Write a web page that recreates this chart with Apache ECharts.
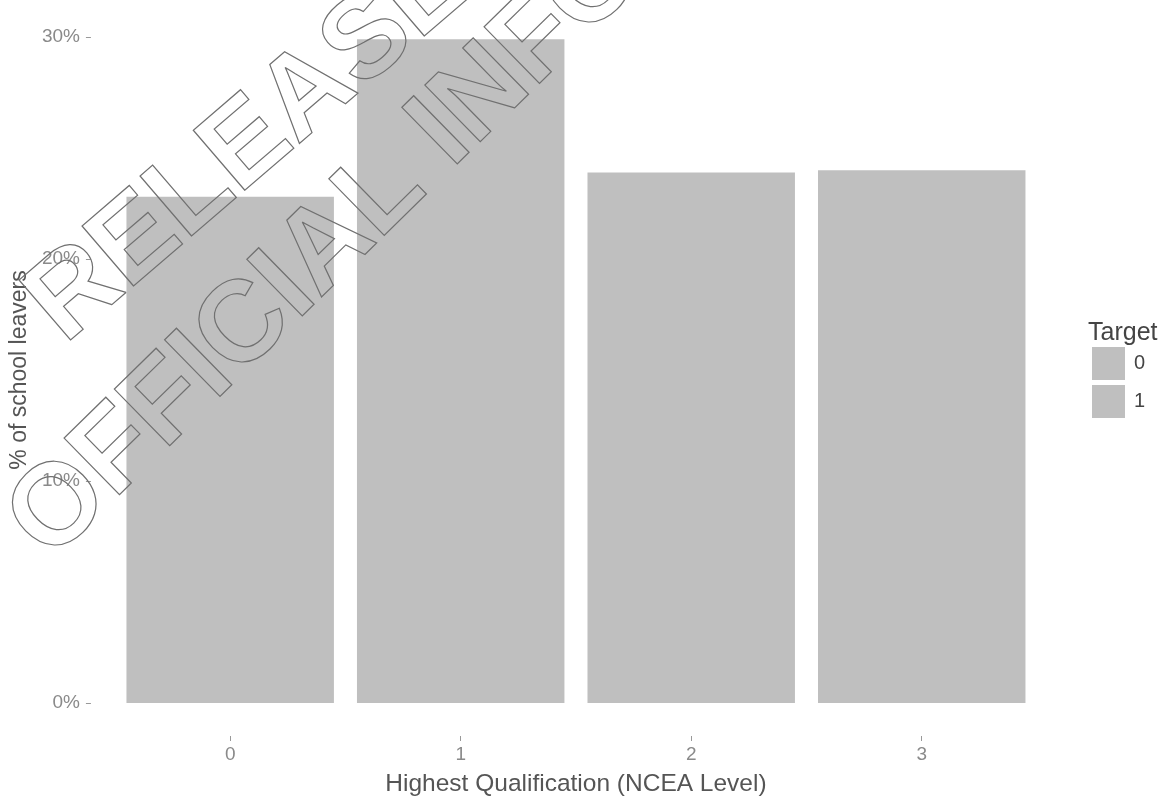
<!DOCTYPE html>
<html>
<head>
<meta charset="utf-8">
<script src="https://cdn.jsdelivr.net/npm/echarts@6/dist/echarts.min.js"></script>
<style>
html,body{margin:0;padding:0;background:#fff;}
#chart{width:1168px;height:802px;}
</style>
</head>
<body>
<div id="chart"></div>
<script>
const categories = ['0', '1', '2', '3'];
const shareValues = [22.8, 29.9, 23.9, 24.0];
const legendNames = ['0', '1'];
const yTicks = [0, 10, 20, 30];
const watermarkLines = ['RELEASED UNDER THE', 'OFFICIAL INFORMATION ACT'];

const FONT = '"Liberation Sans", Arial, sans-serif';
const BAR = '#bfbfbf';
const chart = echarts.init(document.getElementById('chart'), null, {renderer: 'canvas'});

const wmStyle = {
  fill: 'none', stroke: '#707070', lineWidth: 1.2,
  font: 'bold 115px ' + FONT, textAlign: 'left', textVerticalAlign: 'middle', verticalAlign: 'middle'
};

chart.setOption({
  animation: false,
  backgroundColor: '#ffffff',
  grid: {left: 112, right: 131, top: 37, bottom: 98, containLabel: false},
  title: {
    text: 'Target', left: 1083, top: 316,
    textStyle: {fontFamily: FONT, fontSize: 25, fontWeight: 'normal', color: '#444'}
  },
  legend: {
    data: legendNames, orient: 'vertical', left: 1087, top: 342,
    itemWidth: 33, itemHeight: 33, itemGap: 5, icon: 'rect',
    textStyle: {fontFamily: FONT, fontSize: 20, color: '#444', padding: [0, 0, 0, 4]},
    selectedMode: false
  },
  xAxis: {
    type: 'category', data: categories,
    axisLine: {show: false},
    axisTick: {show: true, alignWithLabel: true, length: 38, lineStyle: {color: '#999', type: [0, 33, 5, 0]}},
    axisLabel: {margin: 42, fontFamily: FONT, fontSize: 19, color: '#8a8a8a'},
    name: 'Highest Qualification (NCEA Level)', nameLocation: 'middle', nameGap: 69,
    nameTextStyle: {fontFamily: FONT, fontSize: 24.5, color: '#555'}
  },
  yAxis: {
    type: 'value', min: yTicks[0], max: yTicks[yTicks.length - 1], interval: 10, offset: 24,
    axisLine: {show: false},
    axisTick: {show: true, length: 5, lineStyle: {color: '#999'}},
    splitLine: {show: false},
    axisLabel: {margin: 11, fontFamily: FONT, fontSize: 19, color: '#8a8a8a', formatter: '{value}%'},
    name: '% of school leavers', nameLocation: 'middle', nameRotate: 90, nameGap: 54,
    nameTextStyle: {fontFamily: FONT, fontSize: 23, color: '#555'}
  },
  series: [
    {name: legendNames[0], type: 'bar', stack: 'all', data: shareValues, barWidth: '90%', itemStyle: {color: BAR}},
    {name: legendNames[1], type: 'bar', stack: 'all', data: [], barWidth: '90%', itemStyle: {color: BAR}}
  ],
  graphic: [
    {type: 'text', x: 44, y: 321, rotation: 0.71, z: 100, silent: true, style: Object.assign({text: watermarkLines[0]}, wmStyle)},
    {type: 'text', x: 28, y: 540, rotation: 0.775, z: 100, silent: true, style: Object.assign({text: watermarkLines[1]}, wmStyle)}
  ]
});
</script>
</body>
</html>
